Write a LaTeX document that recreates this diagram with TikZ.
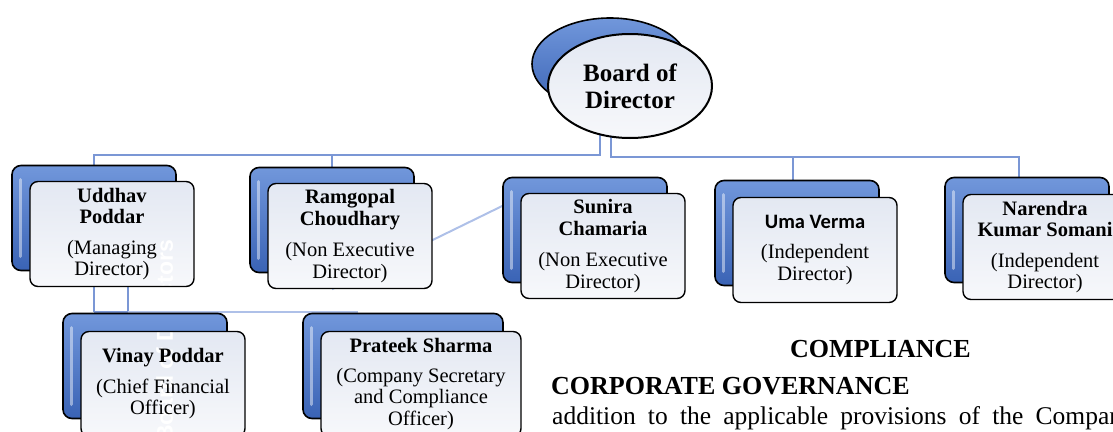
\documentclass[tikz,border=0pt]{standalone}
\usepackage{fontspec}
\setmainfont{Liberation Serif}
\newfontfamily\calibrifont{Carlito}
\newfontfamily\arialfont{Liberation Sans}
\usetikzlibrary{shapes.geometric,backgrounds}
\definecolor{linkblue}{HTML}{7B97D5}
\definecolor{linkpale}{HTML}{AEC0E8}
\definecolor{boxtop}{HTML}{7197DB}
\definecolor{boxmid}{HTML}{4A74C6}
\definecolor{boxbot}{HTML}{3A63B5}
\definecolor{paletop}{HTML}{E3E8F2}
\definecolor{palebot}{HTML}{F7F8FB}
\begin{document}
\begin{tikzpicture}[x=1pt,y=-1pt,
  link/.style={linkblue,line width=2.4pt},
  palelink/.style={linkpale,line width=2pt},
  shine/.style={white,opacity=0.45,line width=3pt,line cap=round},
  backbox/.style={draw=black,line width=1.6pt,rounded corners=9pt,top color=boxtop,middle color=boxmid,bottom color=boxbot,minimum width=164pt,minimum height=105pt,
    path picture={\draw[shine] ([xshift=8pt,yshift=-14pt]path picture bounding box.north west) -- ([xshift=8pt,yshift=14pt]path picture bounding box.south west);}},
  frontbox/.style={draw=black,line width=1.4pt,rounded corners=8pt,top color=paletop,bottom color=palebot,minimum width=164pt,minimum height=105pt,align=center,inner sep=2pt,font=\fontsize{20.5}{21.5}\selectfont,execute at begin node=\rule{0pt}{22pt}},
  stray/.style={rotate=90,text=white,inner sep=0,font=\arialfont\bfseries\fontsize{23}{25}\selectfont}]
\useasboundingbox (0,0) rectangle (1113,431);

% board
\node[ellipse,draw=black,line width=1.6pt,top color=boxtop,middle color=boxmid,bottom color=boxbot,minimum width=156pt,minimum height=92pt] (boardB) at (610,64) {};
\node[ellipse,draw=black,line width=2pt,top color=paletop,bottom color=palebot,minimum width=164pt,minimum height=104pt,align=center,font=\bfseries\fontsize{25}{27}\selectfont] (board) at (630,86) {Board of\\Director};

% first row
\node[backbox] (uddhavB) at (94,218) {};
\node[frontbox,path picture={\node[stray] at ([xshift=50pt,yshift=-107pt]path picture bounding box.center) {Board of Directors};}] (uddhav) at (112,234) {\textbf{Uddhav}\\\textbf{Poddar}\\[9pt](Managing\\Director)};
\node[backbox] (ramgopalB) at (332,220) {};
\node[frontbox] (ramgopal) at (350,236) {\textbf{Ramgopal}\\\textbf{Choudhary}\\[10pt](Non Executive\\Director)};
\node[backbox] (sunB) at (585,230) {};
\node[frontbox] (sun) at (603,246) {\textbf{Sunira}\\\textbf{Chamaria}\\[10pt](Non Executive\\Director)};
\node[backbox] (umaB) at (797,233) {};
\node[frontbox] (uma) at (815,250) {{\calibrifont\bfseries Uma Verma}\\[9pt](Independent\\Director)};
\node[backbox] (narB) at (1027,230) {};
\node[frontbox] (nar) at (1045,247) {\textbf{Narendra}\\\textbf{Kumar Somani}\\[9pt](Independent\\Director)};

% second row
\node[backbox] (vinayB) at (145,366) {};
\node[frontbox,path picture={\node[stray] at ([xshift=-1pt,yshift=43pt]path picture bounding box.center) {Board of Directors};}] (vinay) at (163,384) {\textbf{Vinay Poddar}\\[9pt](Chief Financial\\Officer)};
\node[backbox,minimum width=200pt] (prateekB) at (403,366) {};
\node[frontbox,minimum width=200pt] (prateek) at (421,384) {\textbf{Prateek Sharma}\\[8pt](Company Secretary\\and Compliance\\Officer)};

% connectors
\coordinate (hubL) at (600,155);
\coordinate (hubR) at (611,157);
\coordinate (split) at (128,312);
\coordinate (vinayJ) at (uddhavB.north |- split);
\coordinate (prateekJ) at ([xshift=-45pt]prateekB.north |- split);
\coordinate (bend) at (ramgopal.south -| ramgopalB.north);
\begin{scope}[on background layer]
\draw[link] (board -| hubL) -- (hubL) -| (vinayJ);
\draw[link] (ramgopalB.north |- hubL) -- (bend);
\draw[palelink] (bend) -- ([yshift=24pt]sunB.west);
\draw[link] (board -| hubR) -- (hubR) -| ([xshift=-4pt]umaB.north);
\draw[link] (hubR) -| ([xshift=-8pt]narB.north);
\draw[link] (uddhav.south -| split) -- (split) -- (vinayJ);
\draw[palelink] (split) -- (prateekJ);
\end{scope}

% text beside
\node[anchor=base west,inner sep=0,font=\bfseries\fontsize{26}{28}\selectfont] (compliance) at (790,357) {COMPLIANCE};
\node[anchor=base west,inner sep=0,font=\bfseries\fontsize{26}{28}\selectfont] (governance) at (551,394) {CORPORATE GOVERNANCE};
\node[anchor=base west,inner sep=0,font=\fontsize{25.5}{28}\selectfont] (addition) at (552,424) {\spaceskip=12.2pt addition to the applicable provisions of the Companies};
\end{tikzpicture}
\end{document}
